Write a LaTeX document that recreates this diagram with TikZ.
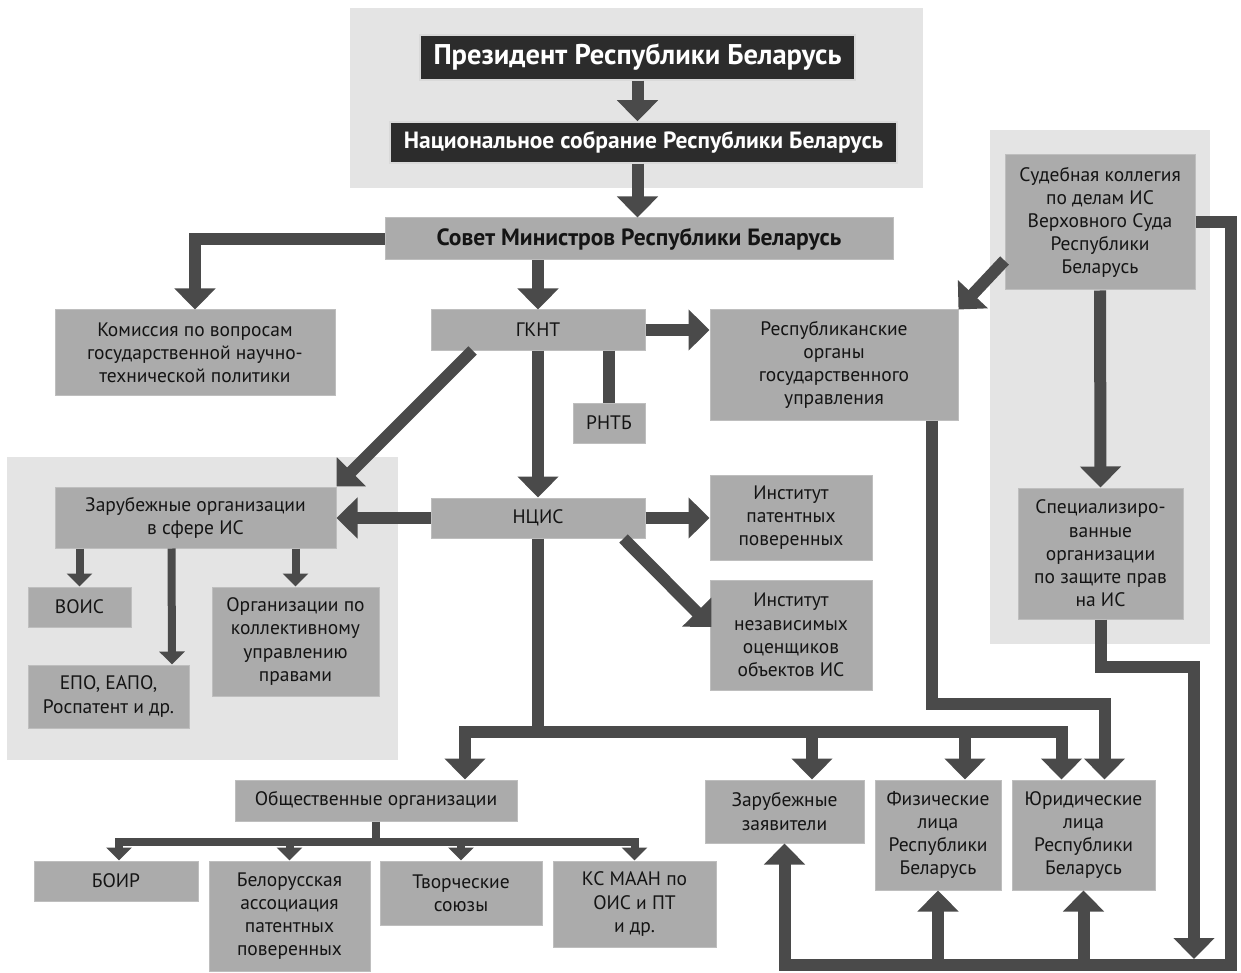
\documentclass[tikz,border=0pt]{standalone}
\usepackage{fontspec}
\setmainfont{PT Sans}
\usetikzlibrary{arrows.meta,calc}
\definecolor{panelg}{HTML}{E4E4E4}
\definecolor{boxg}{HTML}{ABABAB}
\definecolor{boxe}{HTML}{BEBEBE}
\definecolor{lineg}{HTML}{4A4A4A}
\definecolor{darkb}{HTML}{2C2C2C}
\definecolor{txt}{HTML}{141414}
\newcommand\mybox[7]{\node[#6, minimum width={#4-#2}, minimum height={#5-#3}] (#1) at ({(#2+#4)/2},{(#3+#5)/2}) {#7};}
\tikzset{
  panel/.style={fill=panelg, draw=none},
  box/.style={fill=boxg, draw=boxe, line width=1pt, align=center, inner sep=0pt, text=txt,
    font=\fontsize{19.5}{23.2}\selectfont},
  darkbox/.style={fill=darkb, draw=black!15, line width=1.5pt, align=center, inner sep=0pt, text=white},
  midbox/.style={box, font=\fontsize{23.5}{26}\selectfont\bfseries},
  conn/.style={draw=lineg, line width=12pt, line join=miter},
  arr/.style={conn, -{Triangle[width=40pt,length=21pt]}},
  tconn/.style={draw=lineg, line width=8pt, line join=miter},
  tarr/.style={tconn, -{Triangle[width=25pt,length=13pt]}},
}
\begin{document}
\begin{tikzpicture}[x=1pt,y=-1pt]
\useasboundingbox (0,0) rectangle (1241,973);
\fill[white] (0,0) rectangle (1241,973);
% panels
\fill[panel] (350,8) rectangle (923,188);
\fill[panel] (7,457) rectangle (398,760);
\fill[panel] (990,130) rectangle (1210,644);
% boxes
\mybox{pres}{420}{35}{855}{80}{darkbox, font=\fontsize{28.5}{30}\selectfont\bfseries}{Президент Республики Беларусь}
\mybox{nac}{390}{122}{897}{163}{darkbox, font=\fontsize{23.5}{26}\selectfont\bfseries}{Национальное собрание Республики Беларусь}
\mybox{sovet}{385}{218}{893}{260}{midbox}{Совет Министров Республики Беларусь}
\mybox{komis}{55}{310}{335}{395}{box}{Комиссия по вопросам\\государственной научно-\\технической политики}
\mybox{gknt}{431}{310}{645}{350}{box}{ГКНТ}
\mybox{resp}{710}{310}{958}{420}{box}{Республиканские\\органы\\государственного\\управления}
\mybox{rntb}{573}{403}{645}{443}{box}{РНТБ}
\mybox{ncis}{431}{498}{645}{538}{box}{НЦИС}
\mybox{zarorg}{55}{487}{336}{548}{box}{Зарубежные организации\\в сфере ИС}
\mybox{vois}{28}{587}{131}{627}{box}{ВОИС}
\mybox{epo}{28}{665}{189}{728}{box}{ЕПО, ЕАПО,\\Роспатент и др.}
\mybox{kollekt}{212}{587}{379}{696}{box}{Организации по\\коллективному\\управлению\\правами}
\mybox{instpat}{710}{475}{872}{560}{box}{Институт\\патентных\\поверенных}
\mybox{instots}{710}{580}{872}{690}{box}{Институт\\независимых\\оценщиков\\объектов ИС}
\mybox{sud}{1005}{155}{1195}{290}{box}{Судебная коллегия\\по делам ИС\\Верховного Суда\\Республики\\Беларусь}
\mybox{spec}{1018}{488}{1183}{619}{box}{Специализиро-\\ванные\\организации\\по защите прав\\на ИС}
\mybox{obsh}{235}{780}{517}{821}{box}{Общественные организации}
\mybox{boir}{34}{861}{198}{901}{box}{БОИР}
\mybox{bel}{209}{861}{370}{971}{box}{Белорусская\\ассоциация\\патентных\\поверенных}
\mybox{tvor}{380}{861}{542}{925}{box}{Творческие\\союзы}
\mybox{ks}{553}{861}{716}{947}{box}{КС МААН по\\ОИС и ПТ\\и др.}
\mybox{zarzay}{705}{780}{864}{843}{box}{Зарубежные\\заявители}
\mybox{fiz}{875}{780}{1001}{890}{box}{Физические\\лица\\Республики\\Беларусь}
\mybox{yur}{1012}{780}{1155}{890}{box}{Юридические\\лица\\Республики\\Беларусь}
% coordinates
\coordinate (br) at (1231,965);
\coordinate (bus) at (465,732);
\coordinate (ob) at ($(obsh.south)+(0,20)$);
% connectors: top
\draw[arr] (pres.south) -- (pres.south |- nac.north);
\draw[arr] (pres.south |- nac.south) -- (pres.south |- sovet.north);
\draw[arr] (sovet.west) -| (komis.north);
\draw[arr] (gknt.north |- sovet.south) -- (gknt.north);
\draw[arr] (gknt.east) -- (resp.west |- gknt.east);
\draw[conn] (rntb.north |- gknt.south) -- (rntb.north);
\draw[arr] (gknt.south) -- (ncis.north);
\draw[arr] ($(gknt.south west)+(42,0)$) -- (zarorg.north east);
\draw[arr] (ncis.west) -- (zarorg.east |- ncis.west);
\draw[arr] (ncis.east) -- (instpat.west |- ncis.east);
\draw[arr] ($(ncis.south east)+(-22,0)$) -- ($(instots.west)+(2,-8)$);
% left group
\draw[tarr] (vois.north |- zarorg.south) -- (vois.north);
\draw[tarr] ($(zarorg.south west)+(117,0)$) -- ($(epo.north)+(63.5,0)$);
\draw[tarr] (kollekt.north |- zarorg.south) -- (kollekt.north);
% court group
\draw[arr] (sud.south) -- (spec.north);
\draw[arr] ($(sud.south west)+(0,-30)$) -- (resp.north east);
\draw[arr] (sud.east) -| (br) -| (zarzay.south);
\draw[arr] (fiz.south |- br) -- (fiz.south);
\draw[arr] (yur.south |- br) -- (yur.south);
\draw[arr] (spec.south) -- ++(0,47) -| ($(br)+(-37,-6)$);
\draw[arr] ($(resp.south east)+(-27,0)$) -- ++(0,283) -| ($(yur.north east)+(-51,0)$);
% NCIS bus
\draw[arr] (ncis.south) |- (bus) -- (bus |- obsh.north);
\draw[arr] (ncis.south |- bus) -| ($(yur.north west)+(50,0)$);
\draw[arr] ($(zarzay.north)+(27.5,-48)$) -- ($(zarzay.north)+(27.5,0)$);
\draw[arr] ($(fiz.north)+(27,-48)$) -- ($(fiz.north)+(27,0)$);
% public organisations
\draw[tarr] (obsh.south) -- (ob) -| ($(boir.north)+(3,0)$);
\draw[tarr] (ob) -| (ks.north);
\draw[tarr] ($(bel.north)+(0,-20)$) -- (bel.north);
\draw[tarr] ($(tvor.north)+(0,-20)$) -- (tvor.north);
\end{tikzpicture}
\end{document}
